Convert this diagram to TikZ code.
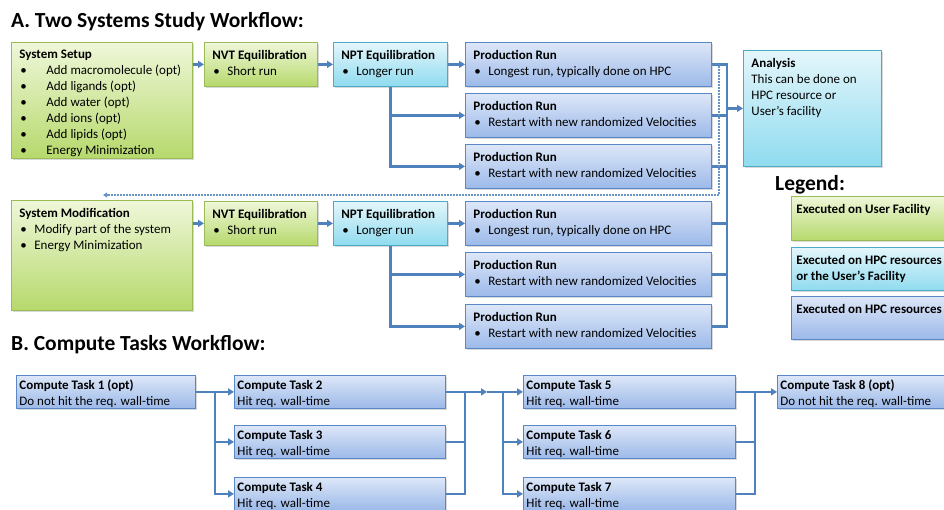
\documentclass[tikz,border=0pt]{standalone}
\usepackage{fontspec}
\setmainfont{Carlito}
\usepackage{tikz}
\usetikzlibrary{calc}
\usetikzlibrary{arrows.meta}
\usetikzlibrary{shadows}

% Palette
\definecolor{linkblue}{HTML}{4F81BD}
\definecolor{hpcborder}{HTML}{5A87C5}
\definecolor{hpctop}{HTML}{DDE7F8}
\definecolor{hpcbot}{HTML}{9CB9E9}
\definecolor{mixborder}{HTML}{4BACC6}
\definecolor{mixtop}{HTML}{E4F6FB}
\definecolor{mixbot}{HTML}{8FDBEF}
\definecolor{userborder}{HTML}{9BBB59}
\definecolor{usertop}{HTML}{EFF7D9}
\definecolor{userbot}{HTML}{B6D96C}

% Box contents: width, height, text
\newcommand{\cell}[3]{\parbox[t][#2pt][t]{#1pt}{\vspace*{2.5pt}#3}}
\newcommand{\hd}[1]{\mbox{\bfseries #1}}
\newcommand{\itm}[2][15pt]{\mbox{\makebox[#1][l]{\hspace{1pt}\textbullet}#2}}

\tikzset{
  box/.style={draw, rectangle, anchor=north west, line width=0.8pt,
    inner xsep=8pt, inner ysep=5pt,
    drop shadow={shadow xshift=1.2pt, shadow yshift=-1.8pt, opacity=0.3}},
  userbox/.style={box, draw=userborder, top color=usertop, bottom color=userbot},
  mixbox/.style={box, draw=mixborder, top color=mixtop, bottom color=mixbot},
  hpcbox/.style={box, draw=hpcborder, top color=hpctop, bottom color=hpcbot},
  taskbox/.style={hpcbox, inner xsep=3pt, inner ysep=2pt},
  link/.style={draw=linkblue, line width=2.5pt},
  flow/.style={link, -{Triangle[length=6pt,width=7pt]}},
  loopback/.style={draw=linkblue!85, line width=1.6pt, dash pattern=on 1.5pt off 1.5pt,
    -{Triangle[length=4pt,width=5pt]}},
  heading/.style={font=\fontsize{21.5}{25}\selectfont\bfseries, anchor=west, inner sep=0pt}
}

\begin{document}
\begin{tikzpicture}[x=1pt, y=-1pt, font=\fontsize{13}{16}\selectfont]
  % Boundary
  \path[use as bounding box] (0,0) rectangle (944,510);
  \clip (0,0) rectangle (944,510);

  % Titles
  \node[heading] (titleA) at (11,22) {A. Two Systems Study Workflow:};
  \node[heading] (titleB) at (11,345) {B. Compute Tasks Workflow:};
  \node[heading] (legend) at (775,185) {Legend:};

  % First system
  \node[userbox] (setup) at (11,42) {\cell{165}{106}{\hd{System Setup}\\
    \itm[27pt]{Add macromolecule (opt)}\\ \itm[27pt]{Add ligands (opt)}\\
    \itm[27pt]{Add water (opt)}\\ \itm[27pt]{Add ions (opt)}\\
    \itm[27pt]{Add lipids (opt)}\\ \itm[27pt]{Energy Minimization}}};
  \node[userbox] (nvt1) at (204,42) {\cell{97}{34}{\hd{NVT Equilibration}\\ \itm{Short run}}};
  \node[mixbox] (npt1) at (333,42) {\cell{98}{34}{\hd{NPT Equilibration}\\ \itm{Longer run}}};
  \node[hpcbox] (pr1) at (465,42) {\cell{230}{34}{\hd{Production Run}\\ \itm{Longest run, typically done on HPC}}};
  \node[hpcbox] (pr2) at (465,93) {\cell{230}{34}{\hd{Production Run}\\ \itm{Restart with new randomized Velocities}}};
  \node[hpcbox] (pr3) at (465,144) {\cell{230}{34}{\hd{Production Run}\\ \itm{Restart with new randomized Velocities}}};
  \node[mixbox] (ana) at (743,50) {\cell{122}{106}{\hd{Analysis}\\ This can be done on\\ HPC resource or\\ User's facility}};

  % Second system
  \node[userbox] (mod) at (11,200) {\cell{165}{100}{\hd{System Modification}\\
    \itm{Modify part of the system}\\ \itm{Energy Minimization}}};
  \node[userbox] (nvt2) at (204,201) {\cell{97}{34}{\hd{NVT Equilibration}\\ \itm{Short run}}};
  \node[mixbox] (npt2) at (333,201) {\cell{98}{34}{\hd{NPT Equilibration}\\ \itm{Longer run}}};
  \node[hpcbox] (pr4) at (465,201) {\cell{230}{34}{\hd{Production Run}\\ \itm{Longest run, typically done on HPC}}};
  \node[hpcbox] (pr5) at (465,252) {\cell{230}{34}{\hd{Production Run}\\ \itm{Restart with new randomized Velocities}}};
  \node[hpcbox] (pr6) at (465,304) {\cell{230}{34}{\hd{Production Run}\\ \itm{Restart with new randomized Velocities}}};

  % Legend
  \node[userbox, inner xsep=5pt] (leg1) at (791,196) {\cell{190}{34}{\hd{Executed on User Facility}}};
  \node[mixbox, inner xsep=5pt] (leg2) at (791,247) {\cell{190}{33}{\hd{Executed on HPC resources}\\ \hd{or the User's Facility}}};
  \node[hpcbox, inner xsep=5pt] (leg3) at (791,296) {\cell{190}{33}{\hd{Executed on HPC resources}}};

  % Compute tasks
  \node[taskbox] (ct1) at (16,375) {\cell{173}{29}{\hd{Compute Task 1 (opt)}\\ Do not hit the req. wall-time}};
  \node[taskbox] (ct2) at (234,375) {\cell{205}{29}{\hd{Compute Task 2}\\ Hit req. wall-time}};
  \node[taskbox] (ct3) at (234,425) {\cell{205}{29}{\hd{Compute Task 3}\\ Hit req. wall-time}};
  \node[taskbox] (ct4) at (234,477) {\cell{205}{29}{\hd{Compute Task 4}\\ Hit req. wall-time}};
  \node[taskbox] (ct5) at (523,375) {\cell{206}{29}{\hd{Compute Task 5}\\ Hit req. wall-time}};
  \node[taskbox] (ct6) at (523,425) {\cell{206}{29}{\hd{Compute Task 6}\\ Hit req. wall-time}};
  \node[taskbox] (ct7) at (523,477) {\cell{206}{29}{\hd{Compute Task 7}\\ Hit req. wall-time}};
  \node[taskbox] (ct8) at (777,375) {\cell{200}{29}{\hd{Compute Task 8 (opt)}\\ Do not hit the req. wall-time}};

  % Bus and fork positions
  \coordinate (bus) at (727,0);
  \coordinate (loopR) at (719,195);
  \coordinate (loopL) at (103,195);
  \coordinate (forkA) at (215,0);
  \coordinate (joinA) at (465,0);
  \coordinate (midA) at (487,0);
  \coordinate (forkB) at (503,0);
  \coordinate (joinB) at (755,0);

  % First system connectors
  \draw[flow] (setup.east |- nvt1.west) -- (nvt1.west);
  \draw[flow] (nvt1) -- (npt1);
  \draw[flow] (npt1) -- (pr1);
  \draw[flow] (npt1.south) |- (pr2.west);
  \draw[flow] (npt1.south) |- (pr3.west);

  % Second system connectors
  \draw[flow] (mod.east |- nvt2.west) -- (nvt2.west);
  \draw[flow] (nvt2) -- (npt2);
  \draw[flow] (npt2) -- (pr4);
  \draw[flow] (npt2.south) |- (pr5.west);
  \draw[flow] (npt2.south) |- (pr6.west);

  % Production runs into analysis
  \draw[link] (pr1.east) -| (bus |- pr6.east) -- (pr6.east);
  \foreach \n in {pr2,pr3,pr4,pr5}
    \draw[link] (\n.east) -- (\n.east -| bus);
  \draw[flow] (bus |- ana.west) -- (ana.west);
  \draw[loopback] (pr1.east) -| (loopR) -- (loopL);

  % Compute task connectors
  \draw[flow] (ct1) -- (ct2);
  \draw[flow] (ct1.east -| forkA) |- (ct3.west);
  \draw[flow] (ct1.east -| forkA) |- (ct4.west);
  \draw[link] (ct2.east) -| (joinA |- ct4.east) -- (ct4.east);
  \draw[link] (ct3.east) -- (ct3.east -| joinA);
  \draw[flow] (ct2.east -| joinA) -- (ct2.east -| midA);
  \draw[flow] (ct2.east -| midA) -- (ct5.west);
  \draw[flow] (ct5.west -| forkB) |- (ct6.west);
  \draw[flow] (ct5.west -| forkB) |- (ct7.west);
  \draw[link] (ct5.east) -| (joinB |- ct7.east) -- (ct7.east);
  \draw[link] (ct6.east) -- (ct6.east -| joinB);
  \draw[flow] (ct5.east -| joinB) -- (ct8.west);
\end{tikzpicture}
\end{document}
